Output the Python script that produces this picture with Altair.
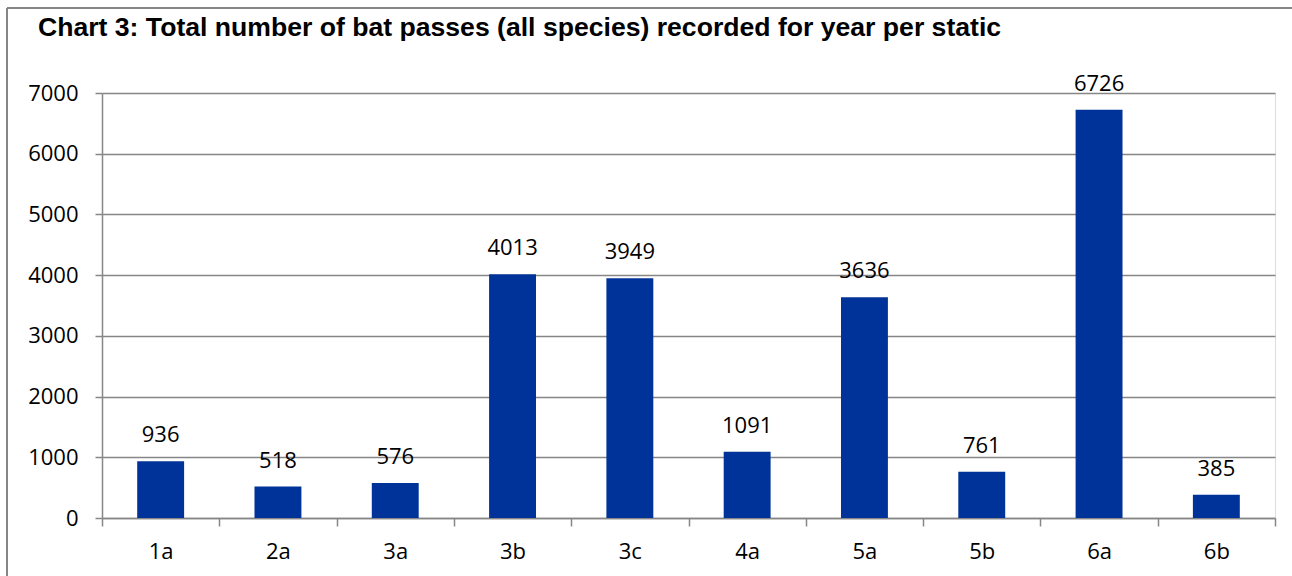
import altair as alt
import pandas as pd

sites = ["1a", "2a", "3a", "3b", "3c", "4a", "5a", "5b", "6a", "6b"]
passes = [936, 518, 576, 4013, 3949, 1091, 3636, 761, 6726, 385]
y_ticks = [0, 1000, 2000, 3000, 4000, 5000, 6000, 7000]
title_text = "Chart 3: Total number of bat passes (all species) recorded for year per static"

df = pd.DataFrame({"site": sites, "passes": passes})
title_df = pd.DataFrame({"t": [title_text]})

GRAY = "#868686"
BAR = "#003399"
FONT = "Open Sans"

x_enc = alt.X("site:N", sort=sites, title=None,
              scale=alt.Scale(paddingInner=0, paddingOuter=0),
              axis=alt.Axis(labelAngle=0, tickBand="extent", tickSize=8,
                            labelPadding=15, labelFont=FONT, labelFontSize=22,
                            labelColor="#000000", domainColor=GRAY, tickColor=GRAY,
                            domainWidth=1.5, tickWidth=1.5, grid=False))
y_enc = alt.Y("passes:Q", title=None,
              scale=alt.Scale(domain=[0, 7000], nice=False),
              axis=alt.Axis(values=y_ticks, format="d", tickSize=7, labelPadding=17,
                            labelFont=FONT, labelFontSize=22, labelColor="#000000",
                            domainColor=GRAY, tickColor=GRAY, gridColor=GRAY,
                            domainWidth=1.5, tickWidth=1.5, gridWidth=1.5))

bars = alt.Chart(df).mark_bar(color=BAR, width=alt.RelativeBandSize(0.4)).encode(
    x=x_enc, y=y_enc)
labels = alt.Chart(df).mark_text(font=FONT, fontSize=22, color="#000000",
                                 baseline="alphabetic", dy=-19).encode(
    x=alt.X("site:N", sort=sites), y="passes:Q", text="passes:Q")

title = alt.Chart(title_df).mark_text(
    font="Liberation Sans", fontWeight="bold", fontSize=26.6, color="#000000",
    align="left", baseline="alphabetic", clip=False).encode(
    x=alt.value(-64), y=alt.value(-57), text="t:N")

border_left = alt.Chart(df).mark_rule(color=GRAY, strokeWidth=2, clip=False).encode(
    x=alt.value(-95), y=alt.value(-85), y2=alt.value(490))
border_top = alt.Chart(df).mark_rule(color=GRAY, strokeWidth=2, clip=False).encode(
    x=alt.value(-95), x2=alt.value(1200), y=alt.value(-85))

chart = alt.layer(bars, labels, title, border_left, border_top).properties(
    width=1173, height=425,
    autosize=alt.AutoSizeParams(type="none"),
    padding={"left": 102, "top": 93, "right": 17, "bottom": 58},
).configure_view(stroke=None).configure(background="white")

chart.save("out.html", embed_options={"renderer": "svg", "actions": False})
